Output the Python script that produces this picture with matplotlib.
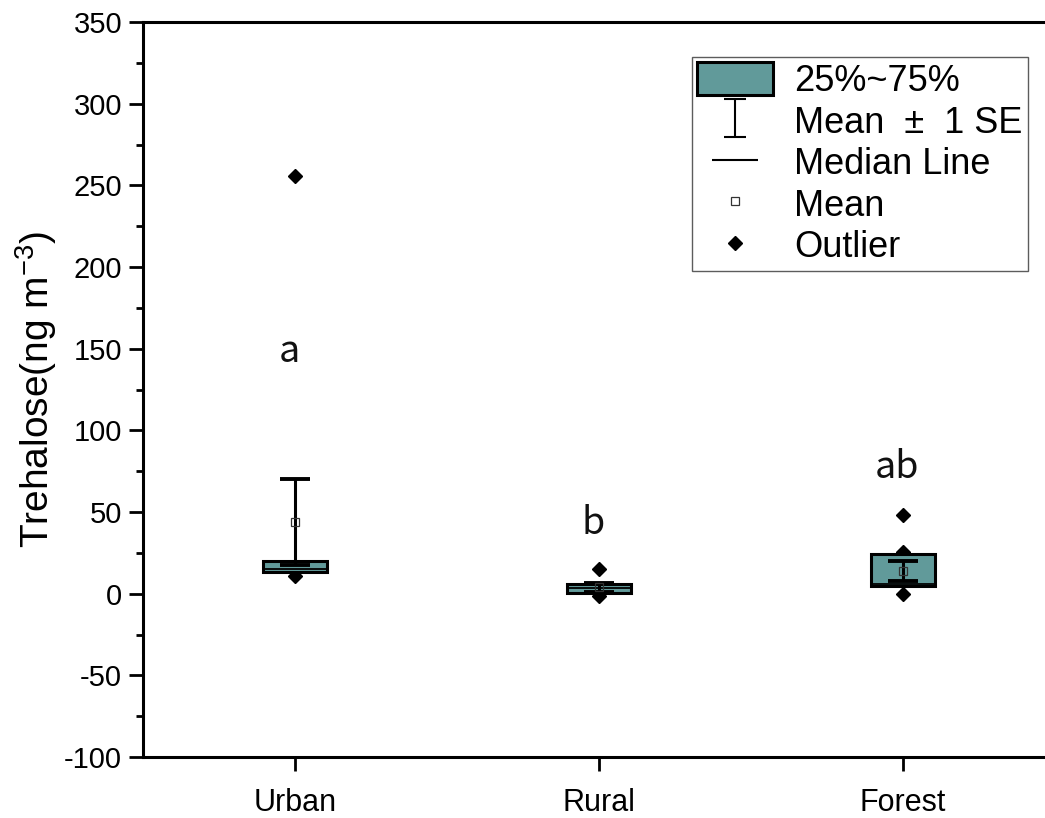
import matplotlib
matplotlib.use("Agg")
import matplotlib.pyplot as plt
from matplotlib.patches import Patch
from matplotlib.lines import Line2D
from matplotlib.path import Path

plt.rcParams['font.family'] = ['Liberation Sans', 'DejaVu Sans']
plt.rcParams['axes.unicode_minus'] = False
plt.rcParams['mathtext.fontset'] = 'custom'
plt.rcParams['mathtext.rm'] = 'Liberation Sans'

# data
sites = ['Urban', 'Rural', 'Forest']
q1 = [13.0, 0.3, 4.5]
q3 = [20.0, 5.8, 24.5]
medians = [15.3, 3.5, 6.0]
means = [44.0, 3.8, 14.0]
se = [26.5, 2.8, 6.2]
outliers = [[256.0, 11.0], [15.0, -1.5], [48.0, 25.5, 0.0]]
letters = ['a', 'b', 'ab']
letter_y = [148, 43, 77]

box_color = '#619a9a'
x = [1, 2, 3]
w = 0.21

fig = plt.figure(figsize=(10.45, 8.18), dpi=100)
ax = fig.add_axes([143 / 1045, 61 / 818, 912 / 1045, 735 / 818])

# outliers behind the boxes
for xi, pts in zip(x, outliers):
    ax.plot([xi] * len(pts), pts, ls='none', marker='D', ms=7, color='black', zorder=1)

# boxes
ax.bar(x, [b - a for a, b in zip(q1, q3)], bottom=q1, width=w, color=box_color,
       edgecolor='black', linewidth=2.2, zorder=2)
# median lines
ax.hlines(medians, [xi - w / 2 for xi in x], [xi + w / 2 for xi in x], color='black', lw=1.3, zorder=3)
# mean +- 1 SE
ax.errorbar(x, means, yerr=se, fmt='none', ecolor='black', elinewidth=2.2, capsize=11,
            capthick=2.8, zorder=4)
ax.plot(x, means, ls='none', marker='s', ms=6, mfc='none', mec='#333333', mew=0.9, zorder=5)

for xi, t, yy in zip(x, letters, letter_y):
    ax.text(xi - 0.02, yy, t, ha='center', va='center', fontsize=27,
            family=['Noto Sans CJK SC', 'DejaVu Sans'], fontweight='light', color='#111111')

ax.set_xlim(0.5, 3.5)
ax.set_ylim(-100, 350)
ax.set_xticks(x)
ax.set_xticklabels(sites, fontsize=22)
ax.set_yticks(range(-100, 351, 50))
ax.set_yticks(range(-75, 350, 50), minor=True)
ax.tick_params(axis='both', which='major', direction='out', length=10, width=2, labelsize=21, pad=5)
ax.tick_params(axis='x', labelsize=22, pad=12)
ax.tick_params(axis='y', which='minor', direction='out', length=5, width=2)
for s in ['left', 'bottom', 'top']:
    ax.spines[s].set_linewidth(2.2)
ax.spines['right'].set_visible(False)
ax.set_ylabel('Trehalose(ng m$^{-3}$)', fontsize=28, labelpad=4)

# legend
ibar = Path([(-0.6, -1), (0.6, -1), (0, -1), (0, 1), (-0.6, 1), (0.6, 1)],
            [Path.MOVETO, Path.LINETO, Path.MOVETO, Path.LINETO, Path.MOVETO, Path.LINETO])
hbar = Path([(-1, 0), (1, 0)], [Path.MOVETO, Path.LINETO])
handles = [
    Patch(facecolor=box_color, edgecolor='black', linewidth=2.2),
    Line2D([], [], ls='none', marker=ibar, ms=27, color='black', mew=1.5),
    Line2D([], [], ls='none', marker=hbar, ms=33, color='black', mew=1.5),
    Line2D([], [], ls='none', marker='s', ms=6, mfc='none', mec='#333333', mew=0.9),
    Line2D([], [], ls='none', marker='D', ms=7, color='black'),
]
labels = ['25%~75%', 'Mean  ±  1 SE', 'Median Line', 'Mean', 'Outlier']
leg = fig.legend(handles, labels, loc='upper left', bbox_to_anchor=(692 / 1045, 1 - 57 / 818),
                 fontsize=26, frameon=True, fancybox=False, edgecolor='#333333', borderpad=0.15,
                 handlelength=2.1, handleheight=1.0, handletextpad=0.58, labelspacing=0.14,
                 borderaxespad=0)
leg.get_frame().set_linewidth(1.0)

fig.savefig('out.png', dpi=100)
